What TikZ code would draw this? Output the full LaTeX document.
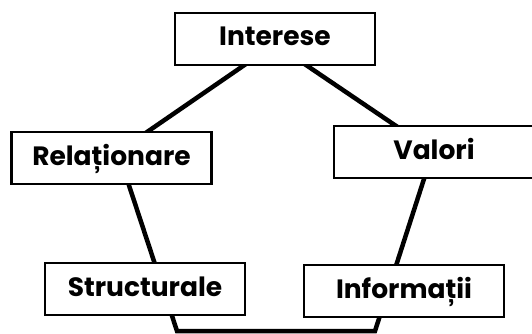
\documentclass[tikz,border=0pt]{standalone}
\usepackage{fontspec}
\setmainfont{Poppins}
\begin{document}
\begin{tikzpicture}[x=1pt,y=-1pt,
  box/.style={draw=black, line width=2.3pt, fill=white, minimum width=200pt, minimum height=52pt,
    inner sep=0pt, text height=19pt, text depth=5pt,
    font=\bfseries\fontsize{26.5}{30}\selectfont},
  link/.style={draw=black, line width=4.5pt, line join=miter}]
\useasboundingbox (0,0) rectangle (532,334);
\clip (0,0) rectangle (532,334);
\coordinate (pT) at (275,44);
\coordinate (pL) at (118,152);
\coordinate (pR) at (433,151);
\coordinate (pBL) at (177,331);
\coordinate (pBR) at (375,331);
\draw[link] (pT) -- (pR) -- (pBR) -- (pBL) -- (pL) -- cycle;
\node[box] (int) at (275,39) {Interese};
\node[box] (rel) at (111.5,158) {Relaționare};
\node[box] (val) at (434,152) {Valori};
\node[box] (str) at (145,289) {Structurale};
\node[box] (inf) at (404,291) {Informații};
\end{tikzpicture}
\end{document}
